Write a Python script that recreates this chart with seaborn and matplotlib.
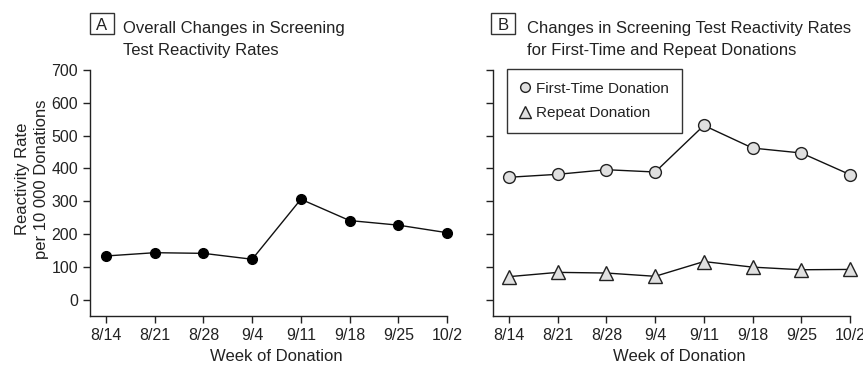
import matplotlib
matplotlib.use("Agg")
import matplotlib.pyplot as plt
import seaborn as sns
import pandas as pd
from matplotlib.lines import Line2D
from matplotlib.patches import Rectangle

# Weekly screening test reactivity rates (per 10 000 donations)
weeks = ["8/14", "8/21", "8/28", "9/4", "9/11", "9/18", "9/25", "10/2"]
overall_rate = [133, 143, 141, 123, 306, 241, 227, 204]
first_time_rate = [373, 382, 396, 389, 531, 462, 447, 381]
repeat_rate = [70, 83, 81, 71, 116, 99, 91, 92]
y_ticks = [0, 100, 200, 300, 400, 500, 600, 700]

sns.set_theme(style="ticks")
plt.rcParams["font.family"] = ["Liberation Sans", "DejaVu Sans"]
TXT = "#222222"
plt.rcParams.update({
    "text.color": TXT, "axes.labelcolor": TXT,
    "xtick.color": "#222222", "ytick.color": "#222222",
    "xtick.labelcolor": TXT, "ytick.labelcolor": TXT,
    "axes.edgecolor": "#222222", "axes.linewidth": 1.0,
    "xtick.major.width": 1.0, "ytick.major.width": 1.0,
    "xtick.major.size": 5, "ytick.major.size": 5,
    "xtick.labelsize": 11.5, "ytick.labelsize": 11.5,
    "axes.labelsize": 12,
})

df_overall = pd.DataFrame({"week": weeks, "rate": overall_rate})
df_first = pd.DataFrame({"week": weeks, "rate": first_time_rate})
df_repeat = pd.DataFrame({"week": weeks, "rate": repeat_rate})

W, H = 863, 366
fig = plt.figure(figsize=(W / 100, H / 100), dpi=100)
fig.patch.set_facecolor("white")

ax_w, ax_h = 357 / W, 246 / H
ax_b = 1 - 316 / H
axA = fig.add_axes([90 / W, ax_b, ax_w, ax_h])
axB = fig.add_axes([493 / W, ax_b, ax_w, ax_h])

line_kw = dict(color="#111111", linewidth=1.0, clip_on=False, sort=False)

sns.lineplot(data=df_overall, x="week", y="rate", ax=axA, marker="o",
             markersize=7, markerfacecolor="black", markeredgecolor="black",
             markeredgewidth=1.0, **line_kw)

sns.lineplot(data=df_first, x="week", y="rate", ax=axB, marker="o",
             markersize=8.5, markerfacecolor="#e0e0e0", markeredgecolor="#222222",
             markeredgewidth=1.0, **line_kw)
sns.lineplot(data=df_repeat, x="week", y="rate", ax=axB, marker="^",
             markersize=9.5, markerfacecolor="#e0e0e0", markeredgecolor="#222222",
             markeredgewidth=1.0, **line_kw)

for ax in (axA, axB):
    ax.set_xlim(-0.33, 7)
    ax.set_ylim(-50, 700)
    ax.set_yticks(y_ticks)
    ax.set_xticks(range(len(weeks)))
    ax.set_xticklabels(weeks)
    for s in ("top", "right"):
        ax.spines[s].set_visible(False)
    ax.tick_params(direction="out", pad=3.5)
    ax.set_xlabel("Week of Donation")
    ax.xaxis.set_label_coords((276.5 - 90) / 357, -0.135)
    ax.set_facecolor("white")

axA.set_ylabel("Reactivity Rate\nper 10 000 Donations", linespacing=1.3)
axA.yaxis.set_label_coords((49 - 90) / 357, 0.557)
axB.set_ylabel("")
axB.set_yticklabels([])

# Legend for panel B
handles = [
    Line2D([], [], linestyle="none", marker="o", markersize=7,
           markerfacecolor="#e0e0e0", markeredgecolor="#222222", markeredgewidth=1.0),
    Line2D([], [], linestyle="none", marker="^", markersize=8,
           markerfacecolor="#e0e0e0", markeredgecolor="#222222", markeredgewidth=1.0),
]
leg = axB.legend(handles, ["First-Time Donation", "Repeat Donation"],
                 loc="upper left", bbox_to_anchor=((507 - 493) / 357, 1.005),
                 borderaxespad=0, frameon=True, fancybox=False, fontsize=11,
                 handlelength=0.6, handletextpad=0.45, borderpad=0.85,
                 labelspacing=0.7)
frame = leg.get_frame()
frame.set_edgecolor("#333333")
frame.set_linewidth(1.0)
frame.set_facecolor("white")
frame.set_alpha(1)

# Panel letters in boxes, with two-line titles
def panel_title(letter, x0, x1, x_text, lines):
    fig.patches.append(Rectangle((x0 / W, 1 - 34 / H), (x1 - x0) / W, 21 / H,
                                 transform=fig.transFigure, fill=False,
                                 edgecolor="#333333", linewidth=1.0))
    fig.text((x0 + x1) / 2 / W, 1 - 29.5 / H, letter, ha="center", va="baseline",
             fontsize=12)
    fig.text(x_text / W, 1 - 33 / H, lines[0], ha="left", va="baseline", fontsize=12)
    fig.text(x_text / W, 1 - 55 / H, lines[1], ha="left", va="baseline", fontsize=12)

panel_title("A", 90, 114, 123, ["Overall Changes in Screening", "Test Reactivity Rates"])
panel_title("B", 491, 515, 527, ["Changes in Screening Test Reactivity Rates",
                                 "for First-Time and Repeat Donations"])

fig.savefig("out.png", dpi=100, facecolor="white")
